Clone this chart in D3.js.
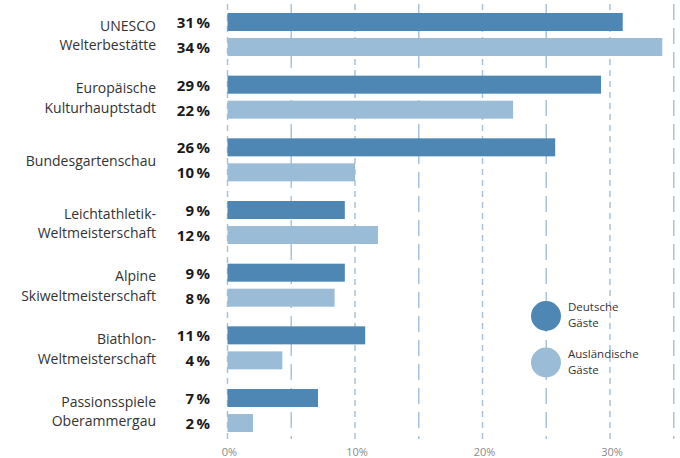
<!DOCTYPE html>
<html>
<head>
<meta charset="utf-8">
<script src="https://cdn.jsdelivr.net/npm/d3@7"></script>
<style>
  body { margin: 0; background: #fff; }
  text { font-family: "Open Sans", "Noto Sans", sans-serif; }
</style>
</head>
<body>
<script>
// categories, each with one or two lines of label text
let categories = [
  ["UNESCO", "Welterbestätte"],
  ["Europäische", "Kulturhauptstadt"],
  ["Bundesgartenschau"],
  ["Leichtathletik-", "Weltmeisterschaft"],
  ["Alpine", "Skiweltmeisterschaft"],
  ["Biathlon-", "Weltmeisterschaft"],
  ["Passionsspiele", "Oberammergau"]
];
// bar lengths, labels are the rounded numbers
let deutsche = [31.0, 29.3, 25.7, 9.2, 9.2, 10.8, 7.1];
let auslaendische = [34.1, 22.4, 10.0, 11.8, 8.4, 4.3, 2.0];
let deutscheLabels = [31, 29, 26, 9, 9, 11, 7];
let auslaendischeLabels = [34, 22, 10, 12, 8, 4, 2];
let ticks = [0, 10, 20, 30];
let gridValues = [0, 5, 10, 15, 20, 25, 30, 35];
let seriesNames = [["Deutsche", "Gäste"], ["Ausländische", "Gäste"]];

let width = 680, height = 458;
let dark = "#4e86b4", light = "#9bbcd6";

let svg = d3.select("body").append("svg")
  .attr("width", width)
  .attr("height", height);

let x = d3.scaleLinear().domain([0, 35]).range([227.5, 673.75]);

// one band per category, holds the pair of bars
let y = d3.scaleBand()
  .domain(d3.range(categories.length))
  .range([6, 6 + 7 * 62.67]);

let barH = 18;
let off1 = 7, off2 = 32; // bar offsets inside a group

// gridlines
svg.append("g").selectAll("line")
  .data(gridValues)
  .enter().append("line")
    .attr("x1", d => x(d)).attr("x2", d => x(d))
    .attr("y1", 4).attr("y2", 439)
    .attr("stroke", "#a8c3db")
    .attr("stroke-width", 1.5)
    .attr("stroke-dasharray", d => d % 10 === 0 ? "6,5" : "16,8");

// bars
let groups = svg.append("g").selectAll("g")
  .data(categories)
  .enter().append("g")
    .attr("transform", (d, i) => "translate(0," + y(i) + ")");

groups.append("rect")
  .attr("x", x(0))
  .attr("y", off1)
  .attr("width", (d, i) => x(deutsche[i]) - x(0))
  .attr("height", barH)
  .attr("fill", dark);

groups.append("rect")
  .attr("x", x(0))
  .attr("y", off2)
  .attr("width", (d, i) => x(auslaendische[i]) - x(0))
  .attr("height", barH)
  .attr("fill", light);

// value labels
groups.append("text")
  .attr("x", 210).attr("y", off1 + barH / 2 + 6)
  .attr("text-anchor", "end")
  .attr("font-weight", "bold").attr("font-size", 15)
  .attr("fill", "#1a1a1a")
  .text((d, i) => deutscheLabels[i] + "\u2009%");

groups.append("text")
  .attr("x", 210).attr("y", off2 + barH / 2 + 6)
  .attr("text-anchor", "end")
  .attr("font-weight", "bold").attr("font-size", 15)
  .attr("fill", "#1a1a1a")
  .text((d, i) => auslaendischeLabels[i] + "\u2009%");

// category labels
groups.append("text")
  .attr("text-anchor", "end")
  .attr("font-size", 14)
  .attr("fill", "#333")
  .each(function(d) {
    let t = d3.select(this);
    let mid = (off1 + off2 + barH) / 2;
    let start = mid - (d.length - 1) * 9.75 + 6;
    d.forEach((line, k) => {
      t.append("tspan").attr("x", 156).attr("y", start + k * 19.5).text(line);
    });
  });

// x axis labels
svg.append("g").selectAll("text")
  .data(ticks)
  .enter().append("text")
    .attr("x", d => x(d) + 2)
    .attr("y", 456)
    .attr("text-anchor", "middle")
    .attr("font-size", 11)
    .attr("fill", "#8a8a8a")
    .text(d => d + "%");

// legend
let legend = svg.append("g").selectAll("g")
  .data(seriesNames)
  .enter().append("g")
    .attr("transform", (d, i) => "translate(546," + (316 + i * 46.5) + ")");

legend.append("circle")
  .attr("r", 15)
  .attr("fill", (d, i) => i === 0 ? dark : light);

// each legend line is its own text so they don't overlap
legend.each(function(d) {
  let g = d3.select(this);
  d.forEach((line, k) => {
    g.append("text")
      .attr("x", 22).attr("y", -5 + k * 16)
      .attr("font-size", 11.5)
      .attr("fill", "#333")
      .text(line);
  });
});
</script>
</body>
</html>
